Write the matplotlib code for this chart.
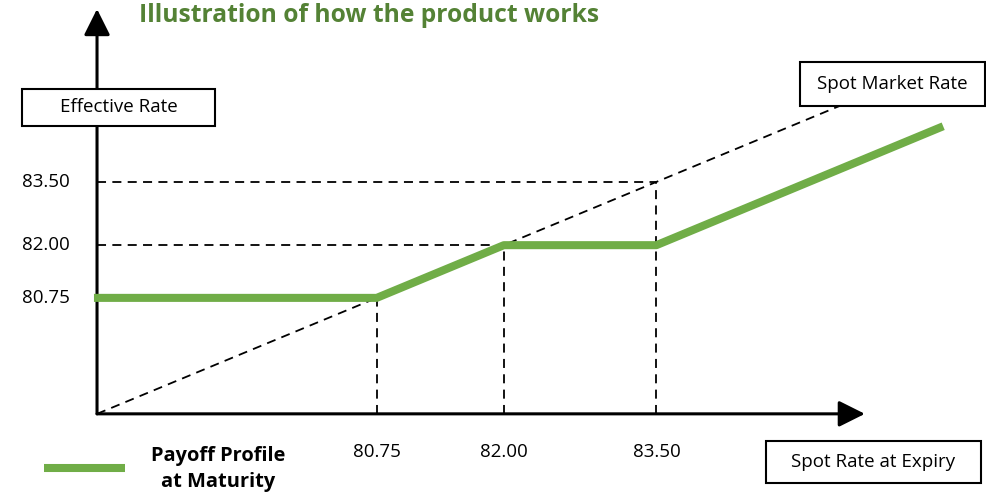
import matplotlib.pyplot as plt
from matplotlib.patches import FancyArrowPatch, Rectangle

plt.rcParams['font.family'] = ['Open Sans', 'DejaVu Sans']

# payoff profile: floor / follow spot / cap / spot minus 1.5
strikes = [80.75, 82.00, 83.50]
tick_labels = ['80.75', '82.00', '83.50']
payoff_x = [77.97, 80.75, 82.00, 83.50, 86.32]
payoff_y = [80.75, 80.75, 82.00, 82.00, 84.82]
spot_x = [78.0, 85.3]
spot_y = [78.0, 85.3]

green = '#70ad47'
title_green = '#548235'

W, H = 986, 497
fig = plt.figure(figsize=(W / 100, H / 100), dpi=100)
ax = fig.add_axes([0, 0, 1, 1])
ax.set_xlim(77.046, 86.741)
ax.set_ylim(76.028, 87.814)
ax.axis('off')

# axes with arrow heads
origin = 78.0
arrow = dict(arrowstyle='-|>,head_length=10,head_width=5', lw=2.2, color='black',
             mutation_scale=1.6, shrinkA=0, shrinkB=0)
ax.add_patch(FancyArrowPatch((origin, origin), (85.55, origin), **arrow))
ax.add_patch(FancyArrowPatch((origin, origin), (origin, 87.6), **arrow))

dash = dict(color='black', lw=1.3, ls=(0, (5, 3.5)))
ax.plot(spot_x, spot_y, **dash)
for s in strikes:
    ax.plot([s, s], [origin, s], **dash)
for s in strikes[1:]:
    ax.plot([origin, s], [s, s], **dash)

ax.plot(payoff_x, payoff_y, color=green, lw=5.8, solid_capstyle='butt', zorder=5)

# tick labels
for s, lab in zip(strikes, tick_labels):
    ax.text(70 / W, s, lab, transform=ax.get_yaxis_transform(), ha='right', va='center', fontsize=13.5)
    ax.text(s, 1 - 452 / H, lab, transform=ax.get_xaxis_transform(), ha='center', va='center', fontsize=13.5)

ax.text(369 / W, 1 - 15 / H, 'Illustration of how the product works', transform=ax.transAxes,
        ha='center', va='center', fontsize=17.7, fontweight='bold', color=title_green)


def label_box(x0, y0, x1, y1, text):
    ax.add_patch(Rectangle((x0 / W, 1 - y1 / H), (x1 - x0) / W, (y1 - y0) / H,
                           transform=ax.transAxes, fc='white', ec='black', lw=1.5, zorder=6))
    ax.text((x0 + x1) / 2 / W, 1 - (y0 + y1) / 2 / H, text, transform=ax.transAxes,
            ha='center', va='center', fontsize=13.5, zorder=7)


label_box(22, 89, 215, 126, 'Effective Rate')
label_box(800, 62, 985, 106, 'Spot Market Rate')
label_box(766, 441, 981, 483, 'Spot Rate at Expiry')

# legend
ax.plot([44 / W, 125 / W], [1 - 468 / H] * 2, transform=ax.transAxes,
        color=green, lw=5.8, solid_capstyle='butt')
ax.text(218 / W, 1 - 469 / H, 'Payoff Profile\nat Maturity', transform=ax.transAxes,
        ha='center', va='center', fontsize=14.4, fontweight='bold', linespacing=1.4)

fig.savefig('out.png', dpi=100)
